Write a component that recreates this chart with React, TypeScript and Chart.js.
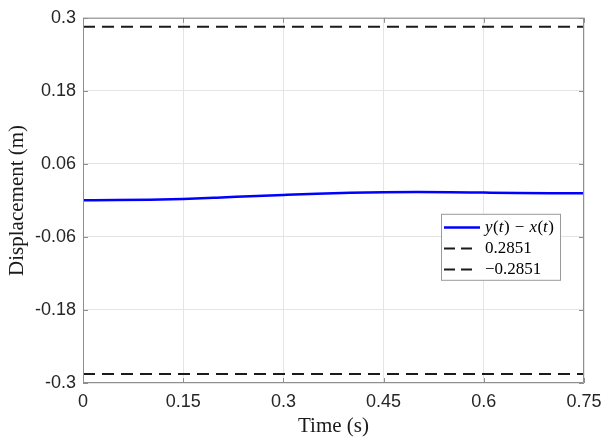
import { useEffect, useRef } from "react";
import { Chart, registerables } from "chart.js";

Chart.register(...registerables);

// ---- data ----
const timeValues = [0, 0.05, 0.1, 0.15, 0.2, 0.25, 0.3, 0.35, 0.4, 0.45, 0.5, 0.55, 0.6, 0.65, 0.7, 0.75];
const relativeDisplacement = [
  0.0003, 0.0005, 0.0012, 0.0025, 0.0045, 0.0068, 0.009, 0.011, 0.0125, 0.0134, 0.0138, 0.0135, 0.0128,
  0.0122, 0.0119, 0.0118,
];
const boundTimes = [0, 0.75];
const upperBound = 0.2851;
const lowerBound = -0.2851;
const xTickValues = [0, 0.15, 0.3, 0.45, 0.6, 0.75];
const xTickLabels = ["0", "0.15", "0.3", "0.45", "0.6", "0.75"];
const yTickValues = [-0.3, -0.18, -0.06, 0.06, 0.18, 0.3];
const yTickLabels = ["-0.3", "-0.18", "-0.06", "0.06", "0.18", "0.3"];
const seriesLabels = ["y(t) \u2212 x(t)", "0.2851", "\u22120.2851"];

const SERIF = "'Liberation Serif', 'Times New Roman', serif";
const SANS = "'Liberation Sans', Arial, Helvetica, sans-serif";
const BOX_COLOR = "#8f8f8f";

const boxPlugin = {
  id: "matlabBox",
  afterDatasetsDraw(chart: any) {
    const { ctx, chartArea, scales } = chart;
    const { left, right, top, bottom } = chartArea;
    ctx.save();
    ctx.strokeStyle = BOX_COLOR;
    ctx.lineWidth = 1;
    ctx.beginPath();
    ctx.rect(left + 0.5, top + 0.5, right - left - 1, bottom - top - 1);
    ctx.stroke();
    const tl = 5;
    ctx.beginPath();
    xTickValues.forEach((v) => {
      const px = Math.round(scales.x.getPixelForValue(v)) + 0.5;
      ctx.moveTo(px, bottom);
      ctx.lineTo(px, bottom - tl);
      ctx.moveTo(px, top);
      ctx.lineTo(px, top + tl);
    });
    yTickValues.forEach((v) => {
      const py = Math.round(scales.y.getPixelForValue(v)) + 0.5;
      ctx.moveTo(left, py);
      ctx.lineTo(left + tl, py);
      ctx.moveTo(right, py);
      ctx.lineTo(right - tl, py);
    });
    ctx.stroke();
    ctx.restore();
  },
};

function drawMathText(ctx: CanvasRenderingContext2D, text: string, x: number, y: number, size: number) {
  let cx = x;
  for (const ch of text) {
    if (ch === " ") {
      cx += size * 0.3;
      continue;
    }
    const italic = /[a-z]/i.test(ch);
    ctx.font = `${italic ? "italic " : ""}${size}px ${SERIF}`;
    ctx.fillText(ch, cx, y);
    cx += ctx.measureText(ch).width + (italic ? size * 0.03 : 0);
  }
}

const legendPlugin = {
  id: "matlabLegend",
  afterDraw(chart: any) {
    const { ctx, chartArea } = chart;
    const w = 120;
    const h = 67;
    const x0 = chartArea.right - 23 - w;
    const y0 = chartArea.top + 196;
    ctx.save();
    ctx.fillStyle = "#ffffff";
    ctx.fillRect(x0, y0, w, h);
    ctx.strokeStyle = "#9a9a9a";
    ctx.lineWidth = 1;
    ctx.strokeRect(x0 + 0.5, y0 + 0.5, w - 1, h - 1);
    const rows = [13, 34, 55.5];
    chart.data.datasets.forEach((ds: any, i: number) => {
      const cy = Math.round(y0 + rows[i]) + 0.5;
      const dashed = ds.borderDash && ds.borderDash.length > 0;
      ctx.beginPath();
      ctx.strokeStyle = ds.borderColor;
      ctx.lineWidth = ds.borderWidth;
      ctx.setLineDash(dashed ? [11, 6] : []);
      ctx.moveTo(x0 + 3, cy);
      ctx.lineTo(x0 + (dashed ? 31 : 39), cy);
      ctx.stroke();
      ctx.setLineDash([]);
      ctx.fillStyle = "#000000";
      ctx.textBaseline = "middle";
      ctx.textAlign = "left";
      if (i === 0) {
        drawMathText(ctx, ds.label, x0 + 44, cy, 17);
      } else {
        ctx.font = `17px ${SERIF}`;
        ctx.fillText(ds.label, x0 + 44, cy);
      }
    });
    ctx.restore();
  },
};

export default function App() {
  const canvasRef = useRef<HTMLCanvasElement | null>(null);

  useEffect(() => {
    document.body.style.margin = "0";
    const canvas = canvasRef.current;
    if (!canvas) return;

    const chart = new Chart(canvas, {
      type: "line",
      data: {
        datasets: [
          {
            label: seriesLabels[0],
            data: timeValues.map((t, i) => ({ x: t, y: relativeDisplacement[i] })),
            borderColor: "#0000ff",
            borderWidth: 2.5,
            pointRadius: 0,
            cubicInterpolationMode: "monotone",
            fill: false,
          },
          {
            label: seriesLabels[1],
            data: boundTimes.map((t) => ({ x: t, y: upperBound })),
            borderColor: "#1a1a1a",
            borderWidth: 2,
            borderDash: [12, 7],
            pointRadius: 0,
            fill: false,
          },
          {
            label: seriesLabels[2],
            data: boundTimes.map((t) => ({ x: t, y: lowerBound })),
            borderColor: "#1a1a1a",
            borderWidth: 2,
            borderDash: [12, 7],
            pointRadius: 0,
            fill: false,
          },
        ],
      },
      options: {
        animation: false,
        responsive: false,
        devicePixelRatio: 1,
        layout: { padding: { left: 0, top: 16, right: 27, bottom: 0 } },
        plugins: {
          legend: { display: false },
          tooltip: { enabled: false },
        },
        scales: {
          x: {
            type: "linear",
            min: 0,
            max: 0.75,
            afterBuildTicks: (scale: any) => {
              scale.ticks = xTickValues.map((v) => ({ value: v }));
            },
            afterFit: (scale: any) => {
              scale.height = 61;
            },
            ticks: {
              autoSkip: false,
              maxRotation: 0,
              padding: 8,
              color: "#262626",
              font: { family: SANS, size: 18 },
              callback: (_v: any, i: number) => xTickLabels[i],
            },
            grid: { color: "#e4e4e4", drawTicks: false, lineWidth: 1 },
            border: { display: false },
            title: {
              display: true,
              text: "Time (s)",
              color: "#1a1a1a",
              font: { family: SERIF, size: 21 },
              padding: { top: 0, bottom: 5 },
            },
          },
          y: {
            type: "linear",
            min: -0.3,
            max: 0.3,
            afterBuildTicks: (scale: any) => {
              scale.ticks = yTickValues.map((v) => ({ value: v }));
            },
            afterFit: (scale: any) => {
              scale.width = 83;
            },
            ticks: {
              autoSkip: false,
              padding: 7,
              color: "#262626",
              font: { family: SANS, size: 18 },
              callback: (_v: any, i: number) => yTickLabels[i],
            },
            grid: { color: "#e4e4e4", drawTicks: false, lineWidth: 1 },
            border: { display: false },
            title: {
              display: true,
              text: "Displacement (m)",
              color: "#1a1a1a",
              font: { family: SERIF, size: 21 },
              padding: { top: 5, bottom: 0 },
            },
          },
        },
      } as any,
      plugins: [boxPlugin, legendPlugin],
    });

    return () => {
      chart.destroy();
    };
  }, []);

  return (
    <div style={{ width: 611, height: 444 }}>
      <canvas ref={canvasRef} width={611} height={444} style={{ display: "block" }} />
    </div>
  );
}
